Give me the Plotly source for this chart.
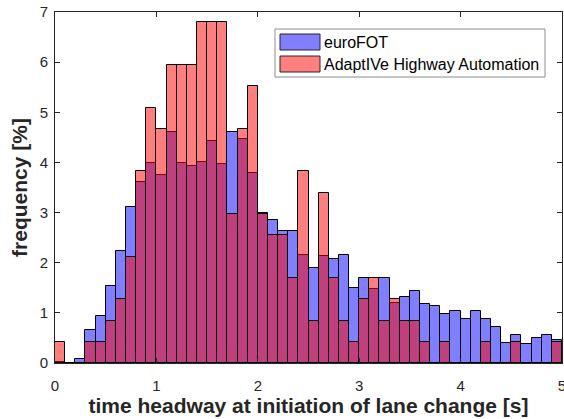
import plotly.graph_objects as go

# ---- data (percent per 0.1 s bin, bins 0.0-0.1 ... 4.9-5.0) ----
bin_width = 0.1
bin_starts = [round(i * bin_width, 1) for i in range(50)]
bin_centers = [round(s + bin_width / 2, 2) for s in bin_starts]

eurofot = [0.02, 0.00, 0.08, 0.66, 0.94, 1.54, 2.23, 3.11, 3.60, 3.99,
           3.75, 4.61, 3.99, 3.93, 4.00, 4.43, 3.96, 4.61, 4.47, 3.78,
           3.00, 2.86, 2.63, 2.63, 2.15, 1.90, 2.13, 2.07, 2.15, 1.50,
           1.70, 1.47, 1.70, 1.20, 1.32, 1.44, 1.17, 1.14, 0.97, 1.04,
           0.87, 1.04, 0.87, 0.71, 0.39, 0.55, 0.37, 0.49, 0.55, 0.45]

adaptive = [0.42, 0.00, 0.00, 0.42, 0.42, 0.84, 1.27, 2.12, 3.82, 5.09,
            4.67, 5.94, 5.94, 5.94, 6.80, 6.80, 6.80, 2.97, 4.67, 5.52,
            2.97, 2.55, 2.55, 1.70, 3.82, 0.84, 3.40, 1.70, 0.84, 0.42,
            1.27, 1.70, 0.84, 1.27, 0.84, 0.84, 0.42, 0.00, 0.42, 0.00,
            0.00, 0.00, 0.42, 0.00, 0.00, 0.42, 0.00, 0.00, 0.00, 0.42]

series_names = ["euroFOT", "AdaptIVe Highway Automation"]
series_fill = ["rgba(0,0,255,0.5)", "rgba(255,0,0,0.5)"]

x_ticks = [0, 1, 2, 3, 4, 5]
y_ticks = [0, 1, 2, 3, 4, 5, 6, 7]

FONT = "Arial, Liberation Sans, sans-serif"
TXT = "#262626"

fig = go.Figure()
for name, vals, col in zip(series_names, [eurofot, adaptive], series_fill):
    fig.add_trace(go.Bar(
        x=bin_centers, y=vals, width=bin_width, name=name,
        marker=dict(color=col, line=dict(color="black", width=1)),
        showlegend=False,
    ))

W, H = 564, 419
# plot area in window pixels
X0, X1, Y0, Y1 = 55, 562, 12, 363
L, R, T, B = X0, W - X1, Y0, H - Y1


def px(xp):
    return (xp - X0) / (X1 - X0)


def py(yp):
    return (Y1 - yp) / (Y1 - Y0)


shapes = [dict(type="rect", xref="paper", yref="paper",
               x0=px(275), x1=px(545), y0=py(77), y1=py(29),
               line=dict(color="#8c8c8c", width=1), fillcolor="white", layer="above")]
annotations = []
for i, (name, col) in enumerate(zip(series_names, series_fill)):
    top = 34 + i * 22
    shapes.append(dict(type="rect", xref="paper", yref="paper",
                       x0=px(280), x1=px(320), y0=py(top + 16), y1=py(top),
                       line=dict(color="#262626", width=1), fillcolor=col, layer="above"))
    annotations.append(dict(xref="paper", yref="paper", x=px(322), y=py(top + 8.5),
                            xanchor="left", yanchor="middle", showarrow=False,
                            text=name, font=dict(family=FONT, size=16, color="black")))

fig.update_layout(
    width=W, height=H,
    margin=dict(l=L, r=R, t=T, b=B, autoexpand=False),
    paper_bgcolor="white", plot_bgcolor="white",
    barmode="overlay", bargap=0,
    font=dict(family=FONT, size=15, color=TXT),
    shapes=shapes, annotations=annotations,
    xaxis=dict(range=[0, 5], tickvals=x_ticks, ticks="inside", ticklen=5,
               showline=True, linecolor=TXT, linewidth=1, mirror="ticks",
               tickcolor=TXT, showgrid=False, zeroline=False,
               ticklabelstandoff=9, ticklabeloverflow="allow",
               tickfont=dict(size=15, color=TXT),
               title=dict(text="<b>time headway at initiation of lane change [s]</b>",
                          font=dict(size=21, color=TXT), standoff=4)),
    yaxis=dict(range=[0, 7], tickvals=y_ticks, ticks="inside", ticklen=5,
               showline=True, linecolor=TXT, linewidth=1, mirror="ticks",
               tickcolor=TXT, showgrid=False, zeroline=False,
               ticklabelstandoff=3, ticklabeloverflow="allow",
               tickfont=dict(size=15, color=TXT),
               title=dict(text="<b>frequency [%]</b>",
                          font=dict(size=21, color=TXT), standoff=6)),
)

# remove the browser's default 8px body margin so the figure fills the window
fig.write_html("out.html",
               config={"displayModeBar": False},
               post_script="document.body.style.margin='0';"
                           "document.body.style.overflow='hidden';")
